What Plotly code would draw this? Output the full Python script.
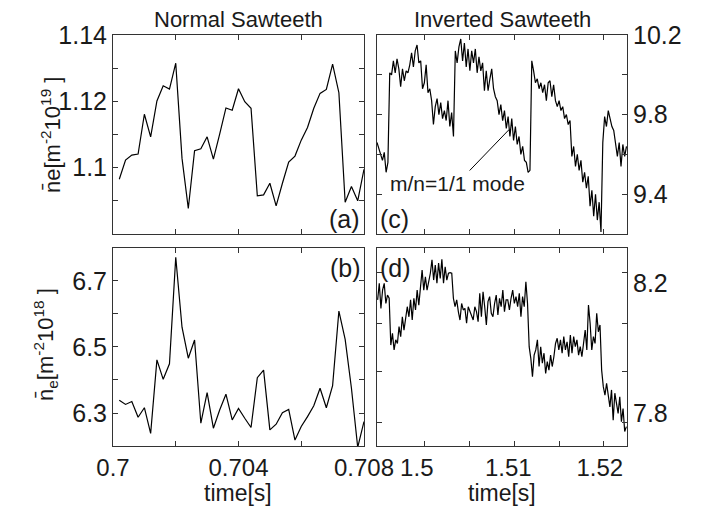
import plotly.graph_objects as go

# ---------------- data ----------------
# (a) normal sawteeth, line-integrated density [1e19 m^-2]
T0_A = 0.7002
DT_A = 0.0002
ne_a = [1.0965, 1.1023, 1.1038, 1.1041, 1.1161, 1.1093, 1.1201, 1.1247, 1.1237, 1.1315,
        1.1028, 1.0877, 1.1051, 1.1057, 1.1093, 1.1026, 1.1101, 1.1180, 1.1173, 1.1238,
        1.1199, 1.1179, 1.0915, 1.0918, 1.0953, 1.0885, 1.0953, 1.1017, 1.1035, 1.1083,
        1.1121, 1.1179, 1.1224, 1.1236, 1.1312, 1.1226, 1.0896, 1.0943, 1.0900, 1.0995]

# (b) normal sawteeth, edge chord [1e18 m^-2]
ne_b = [6.339, 6.326, 6.335, 6.287, 6.316, 6.238, 6.461, 6.402, 6.449, 6.772,
        6.560, 6.466, 6.521, 6.269, 6.362, 6.254, 6.309, 6.357, 6.279, 6.314,
        6.284, 6.256, 6.407, 6.430, 6.249, 6.266, 6.301, 6.311, 6.218, 6.259,
        6.289, 6.322, 6.375, 6.316, 6.383, 6.609, 6.523, 6.375, 6.196, 6.274]

# (c) inverted sawteeth
T0_C = 1.49565
DT_C = 0.000199
ne_c = [9.66, 9.63, 9.60, 9.57, 9.61, 9.51, 9.56, 10.01, 10.00, 10.07,
        10.01, 10.08, 10.03, 9.94, 10.03, 9.97, 10.02, 10.01, 10.05, 10.11,
        10.04, 10.12, 10.15, 10.06, 10.07, 9.93, 9.96, 10.05, 9.91, 9.93,
        9.87, 9.75, 9.84, 9.88, 9.80, 9.86, 9.78, 9.82, 9.77, 9.87,
        9.74, 9.81, 9.69, 10.12, 10.06, 10.14, 10.18, 10.07, 10.16, 10.04,
        10.13, 10.02, 10.12, 10.06, 10.13, 10.01, 10.09, 10.02, 10.06, 9.92,
        10.02, 9.92, 9.98, 10.03, 9.93, 9.89, 9.87, 9.80, 9.85, 9.77,
        9.82, 9.73, 9.79, 9.69, 9.78, 9.67, 9.74, 9.65, 9.69, 9.60,
        9.64, 9.57, 9.56, 9.51, 9.52, 10.07, 10.02, 9.96, 9.98, 9.93,
        9.96, 9.91, 9.95, 9.87, 9.96, 9.97, 9.89, 9.95, 9.87, 9.84,
        9.87, 9.82, 9.84, 9.78, 9.80, 9.75, 9.77, 9.59, 9.64, 9.54,
        9.60, 9.52, 9.57, 9.46, 9.51, 9.43, 9.49, 9.34, 9.42, 9.29,
        9.40, 9.27, 9.36, 9.21, 9.66, 9.79, 9.74, 9.82, 9.78, 9.74,
        9.72, 9.64, 9.59, 9.66, 9.54, 9.65, 9.59, 9.64]

# (d) inverted sawteeth, edge chord
T0_D = 1.49572
DT_D = 0.00018
ne_d = [8.148, 8.199, 8.122, 8.178, 8.199, 8.137, 8.163, 8.153,
        8.009, 8.045, 7.994, 8.025,
        8.014, 8.066, 8.035, 8.096, 8.055, 8.086, 8.127, 8.096, 8.148, 8.086,
        8.153, 8.117, 8.178, 8.132, 8.189,
        8.240, 8.178, 8.219, 8.178, 8.204, 8.230, 8.271, 8.209, 8.255, 8.199,
        8.261, 8.214, 8.273, 8.199, 8.250, 8.209, 8.230, 8.232, 8.230,
        8.153, 8.127, 8.148, 8.112, 8.086, 8.137, 8.117, 8.122, 8.076, 8.127, 8.112,
        8.102, 8.086, 8.127, 8.112, 8.081, 8.168, 8.096, 8.173, 8.127, 8.071,
        8.143, 8.158, 8.107, 8.096, 8.137, 8.163, 8.102, 8.153, 8.127, 8.178,
        8.112, 8.148, 8.148, 8.117, 8.153, 8.178, 8.137, 8.158, 8.127, 8.168,
        8.096, 8.158, 8.127, 8.204, 8.137,
        8.004, 7.968, 7.912, 7.978,
        7.994, 8.025, 7.943, 8.004, 7.953, 7.984, 7.922, 7.958, 7.932, 7.978,
        7.943, 7.973,
        8.014, 8.030, 7.994, 8.025, 7.984, 8.035, 7.994, 8.019, 7.973, 8.040,
        7.984, 8.035, 8.004, 8.025, 7.978, 8.004, 7.973, 8.014, 8.055, 7.994,
        8.132, 8.076, 7.994, 8.035, 8.014, 8.107, 8.050, 8.071,
        7.932, 7.881, 7.855, 7.891, 7.850, 7.819, 7.871, 7.778, 7.861, 7.830,
        7.799, 7.850, 7.773, 7.814, 7.743, 7.758]

t_a = [T0_A + DT_A * i for i in range(len(ne_a))]
t_b = [T0_A + DT_A * i for i in range(len(ne_b))]
t_c = [T0_C + DT_C * i for i in range(len(ne_c))]
t_d = [T0_D + DT_D * i for i in range(len(ne_d))]

# tick labels
xa_labels = ["0.7", "0.704", "0.708"]
xc_labels = ["1.5", "1.51", "1.52"]
ya_labels = ["1.1", "1.12", "1.14"]
yb_labels = ["6.3", "6.5", "6.7"]
yc_labels = ["9.4", "9.8", "10.2"]
yd_labels = ["7.8", "8.2"]

# ---------------- figure ----------------
FONT = "Liberation Sans, Arial, Helvetica, sans-serif"
TXT = "#1a1a1a"
LINE = dict(color="black", width=1.2)
XTICKFONT = dict(family=FONT, size=24, color=TXT)
YTICKFONT = dict(family=FONT, size=25, color=TXT)

fig = go.Figure()
fig.add_trace(go.Scatter(x=t_a, y=ne_a, xaxis="x", yaxis="y", mode="lines", line=LINE))
fig.add_trace(go.Scatter(x=t_b, y=ne_b, xaxis="x2", yaxis="y2", mode="lines", line=LINE))
fig.add_trace(go.Scatter(x=t_c, y=ne_c, xaxis="x3", yaxis="y3", mode="lines", line=LINE))
fig.add_trace(go.Scatter(x=t_d, y=ne_d, xaxis="x4", yaxis="y4", mode="lines", line=LINE))


def minor(vals):
    return dict(tickmode="array", tickvals=vals, ticks="inside", ticklen=5,
                tickcolor="#333", tickwidth=1, showgrid=False)


common = dict(showline=True, linecolor="#333", linewidth=1, mirror="ticks",
              ticks="inside", ticklen=5, tickcolor="#333", tickwidth=1,
              showgrid=False, zeroline=False)
cx = dict(common, tickfont=XTICKFONT)
cy = dict(common, tickfont=YTICKFONT)

L = [0, 0.4883]
R = [0.5136, 1]
TOP = [0.5158, 1]
BOT = [0, 0.4818]

XC_RANGE = [1.49565, 1.52297]
xc_ticks = [1.50086, 1.50576, 1.51065, 1.51554, 1.52043]
yd_ticks = [7.7723, 7.9262, 8.0769, 8.2308]

fig.update_layout(
    width=703, height=509,
    margin=dict(l=105, r=84, t=27, b=71, pad=0),
    paper_bgcolor="white", plot_bgcolor="white",
    showlegend=False,
    font=dict(family=FONT, color=TXT),
    xaxis=dict(cx, domain=L, anchor="y", range=[0.7, 0.708],
               tickmode="array", tickvals=[0.7, 0.702, 0.704, 0.706, 0.708],
               showticklabels=False),
    yaxis=dict(cy, domain=TOP, anchor="x", range=[1.08, 1.14],
               tickmode="array", tickvals=[1.10, 1.12, 1.14], ticktext=ya_labels,
               minor=minor([1.09, 1.11, 1.13])),
    xaxis2=dict(cx, domain=L, anchor="y2", range=[0.7, 0.708],
                tickmode="array", tickvals=[0.7, 0.704, 0.708], ticktext=xa_labels,
                minor=minor([0.702, 0.706])),
    yaxis2=dict(cy, domain=BOT, anchor="x2", range=[6.2, 6.8],
                tickmode="array", tickvals=[6.3, 6.5, 6.7], ticktext=yb_labels,
                minor=minor([6.4, 6.6])),
    xaxis3=dict(cx, domain=R, anchor="y3", range=XC_RANGE,
                tickmode="array", tickvals=xc_ticks, showticklabels=False),
    yaxis3=dict(cy, domain=TOP, anchor="x3", side="right", range=[9.2, 10.2],
                tickmode="array", tickvals=[9.4, 9.8, 10.2], ticktext=yc_labels,
                minor=minor([9.6, 10.0])),
    xaxis4=dict(cx, domain=R, anchor="y4", range=XC_RANGE,
                tickmode="array", tickvals=[1.5, 1.51, 1.52], ticktext=xc_labels,
                ticks="", minor=minor(xc_ticks)),
    yaxis4=dict(cy, domain=BOT, anchor="x4", side="right", range=[7.6985, 8.3077],
                tickmode="array", tickvals=[7.8, 8.2], ticktext=yd_labels,
                ticks="", minor=minor(yd_ticks)),
)


def px(x):
    return (x - 113) / 514.0


def py(y):
    return (446 - y) / 411.0


ann = []
for text, x, y, size in [("Normal Sawteeth", 238, 20, 22), ("Inverted Sawteeth", 502, 20, 22),
                         ("time[s]", 238, 493, 23), ("time[s]", 502, 493, 23),
                         ("(a)", 344, 219, 25), ("(c)", 394, 219, 25),
                         ("(b)", 345, 268, 25), ("(d)", 395, 268, 25)]:
    ann.append(dict(text=text, x=px(x), y=py(y), xref="paper", yref="paper",
                    xanchor="center", yanchor="middle", showarrow=False,
                    font=dict(family=FONT, size=size, color=TXT)))

ann.append(dict(text="n\u0304e[m<sup>-2</sup>10<sup>19</sup> ]", x=px(51), y=py(135),
                xref="paper", yref="paper", xanchor="center", yanchor="middle",
                textangle=-90, showarrow=False, font=dict(family=FONT, size=22, color=TXT)))
ann.append(dict(text="n\u0304<sub>e</sub>[m<sup>-2</sup>10<sup>18</sup> ]", x=px(45), y=py(345),
                xref="paper", yref="paper", xanchor="center", yanchor="middle",
                textangle=-90, showarrow=False, font=dict(family=FONT, size=22, color=TXT)))

ann.append(dict(text="m/n=1/1 mode", x=1.51009, y=9.725, xref="x3", yref="y3",
                showarrow=True, arrowhead=0, arrowwidth=1, arrowcolor="black",
                ax=-52, ay=54, font=dict(family=FONT, size=21, color=TXT)))

fig.update_layout(annotations=ann)

fig.write_html("out.html")
